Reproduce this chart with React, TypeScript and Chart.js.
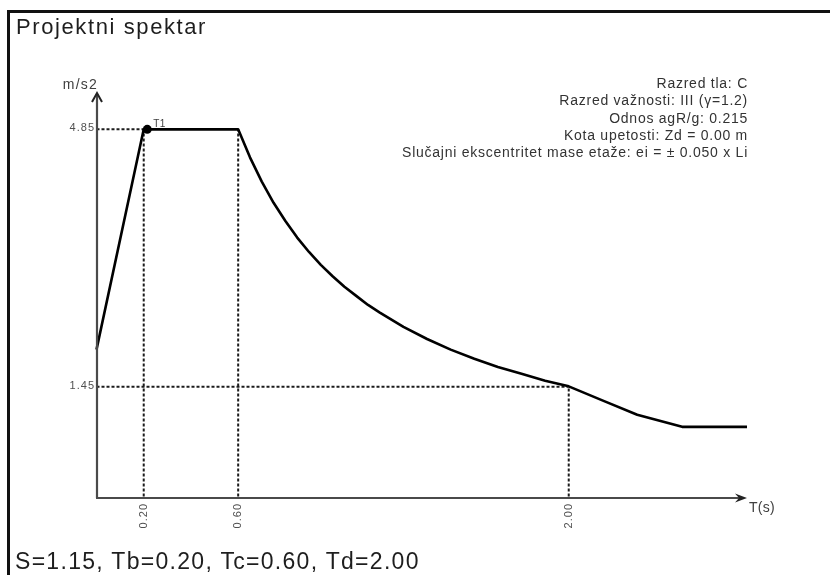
import React, { useEffect, useRef } from "react";
import { Chart, registerables } from "chart.js";

Chart.register(...registerables);

// Spectrum: period T (s) and spectral acceleration Se (m/s2)
const specT = [
  0, 0.2, 0.6, 0.65, 0.7, 0.75, 0.8, 0.85, 0.9, 0.95, 1.0, 1.05, 1.1, 1.15, 1.2, 1.3, 1.4, 1.5,
  1.6, 1.7, 1.8, 1.9, 2.0, 2.15, 2.29, 2.48, 2.755,
];
const specSe = [
  1.94, 4.85, 4.85, 4.48, 4.16, 3.88, 3.64, 3.42, 3.23, 3.06, 2.91, 2.77, 2.65, 2.53, 2.43, 2.24,
  2.08, 1.94, 1.82, 1.71, 1.62, 1.53, 1.455, 1.26, 1.08, 0.92, 0.92,
];

// Characteristic periods and their spectrum values (dotted guides)
const guideT = [0.2, 0.6, 2.0];
const guideSe = [4.85, 4.85, 1.45];
const xTickLabels = ["0.20", "0.60", "2.00"];

const yTickValues = [4.85, 1.45];
const yTickLabels = ["4.85", "1.45"];
const yGuideEndT = [0.2, 2.0];

// Marked point T1
const t1T = [0.215];
const t1Se = [4.85];
const t1Label = "T1";

const titleText = "Projektni spektar";
const footerText = "S=1.15, Tb=0.20, Tc=0.60, Td=2.00";
const yAxisLabel = "m/s2";
const xAxisLabel = "T(s)";
const infoLines = [
  "Razred tla: C",
  "Razred važnosti: III (γ=1.2)",
  "Odnos agR/g: 0.215",
  "Kota upetosti: Zd = 0.00 m",
  "Slučajni ekscentritet mase etaže: ei = ± 0.050 x Li",
];

const FONT = '"Liberation Sans", Arial, "DejaVu Sans", sans-serif';

const decorPlugin = {
  id: "decor",
  afterDatasetsDraw(chart: any) {
    const { ctx, chartArea, scales } = chart;
    const xs = scales.x;
    const ys = scales.y;
    const x0 = xs.getPixelForValue(0) + 0.5;
    const yb = chartArea.bottom;
    const top = chartArea.top;
    const right = chartArea.right;
    ctx.save();
    // axes
    ctx.strokeStyle = "#4a4a4a";
    ctx.lineWidth = 2.2;
    ctx.setLineDash([]);
    ctx.beginPath();
    ctx.moveTo(x0, yb);
    ctx.lineTo(x0, top + 1);
    ctx.moveTo(x0 - 1, yb);
    ctx.lineTo(right - 3, yb);
    ctx.stroke();
    // y arrow (chevron)
    ctx.strokeStyle = "#222";
    ctx.lineWidth = 2;
    ctx.beginPath();
    ctx.moveTo(x0 - 5, top + 9);
    ctx.lineTo(x0, top);
    ctx.lineTo(x0 + 5, top + 9);
    ctx.stroke();
    // x arrow (filled)
    ctx.fillStyle = "#222";
    ctx.beginPath();
    ctx.moveTo(right, yb);
    ctx.lineTo(right - 12, yb - 4.5);
    ctx.lineTo(right - 8, yb);
    ctx.lineTo(right - 12, yb + 4.5);
    ctx.closePath();
    ctx.fill();

    // y tick labels
    ctx.fillStyle = "#505050";
    ctx.font = `11px ${FONT}`;
    (ctx as any).letterSpacing = "1px";
    ctx.textAlign = "right";
    ctx.textBaseline = "middle";
    yTickValues.forEach((v, i) => {
      ctx.fillText(yTickLabels[i], x0 - 2, ys.getPixelForValue(v) - 1);
    });
    // x tick labels (rotated)
    guideT.forEach((t, i) => {
      ctx.save();
      ctx.translate(xs.getPixelForValue(t), yb + 5);
      ctx.rotate(-Math.PI / 2);
      ctx.textAlign = "right";
      ctx.textBaseline = "middle";
      ctx.fillText(xTickLabels[i], 0, 0);
      ctx.restore();
    });
    // axis names
    ctx.fillStyle = "#404040";
    ctx.font = `14px ${FONT}`;
    (ctx as any).letterSpacing = "1.2px";
    ctx.textAlign = "right";
    ctx.textBaseline = "middle";
    ctx.fillText(yAxisLabel, x0 + 1, top - 8);
    (ctx as any).letterSpacing = "0.3px";
    ctx.textAlign = "left";
    ctx.fillText(xAxisLabel, right + 2, yb + 10);
    // T1 label
    ctx.font = `10px ${FONT}`;
    (ctx as any).letterSpacing = "0.5px";
    ctx.fillStyle = "#404040";
    ctx.fillText(t1Label, xs.getPixelForValue(t1T[0]) + 6, ys.getPixelForValue(t1Se[0]) - 5);
    // info block
    ctx.font = `14px ${FONT}`;
    (ctx as any).letterSpacing = "0.75px";
    ctx.fillStyle = "#333";
    ctx.textAlign = "right";
    infoLines.forEach((line, i) => {
      ctx.fillText(line, right + 1, 84 + i * 17.4);
    });
    ctx.restore();
  },
};

export default function App() {
  const canvasRef = useRef<HTMLCanvasElement | null>(null);

  useEffect(() => {
    if (!canvasRef.current) return;
    const spectrum = specT.map((t, i) => ({ x: t, y: specSe[i] }));
    const guidePts: any[] = [];
    guideT.forEach((t, i) => {
      guidePts.push({ x: t, y: 0 }, { x: t, y: guideSe[i] }, { x: t, y: null });
    });
    yTickValues.forEach((v, i) => {
      guidePts.push({ x: 0, y: v }, { x: yGuideEndT[i], y: v }, { x: yGuideEndT[i], y: null });
    });

    const chart = new Chart(canvasRef.current, {
      type: "line",
      data: {
        datasets: [
          {
            data: spectrum,
            borderColor: "#000",
            borderWidth: 2.6,
            pointRadius: 0,
            tension: 0,
            clip: false as any,
            borderJoinStyle: "round",
          } as any,
          {
            data: t1T.map((t, i) => ({ x: t, y: t1Se[i] })),
            showLine: false,
            pointRadius: 4.5,
            pointBackgroundColor: "#000",
            pointBorderColor: "#000",
            borderWidth: 0,
            clip: false as any,
          } as any,
          {
            data: guidePts,
            borderColor: "#1c1c1c",
            borderWidth: 2,
            borderDash: [3, 2],
            pointRadius: 0,
            spanGaps: false,
            tension: 0,
            clip: false as any,
          } as any,
        ],
      },
      options: {
        animation: false,
        responsive: false,
        devicePixelRatio: 1,
        parsing: true,
        layout: { padding: { left: 96.5, right: 83, top: 93, bottom: 77 } },
        plugins: {
          legend: { display: false },
          tooltip: { enabled: false },
          title: { display: false },
        },
        scales: {
          x: { type: "linear", min: 0, max: 2.755, display: false },
          y: { type: "linear", min: -0.02, max: 5.33, display: false },
        },
        events: [],
      } as any,
      plugins: [decorPlugin],
    });
    return () => chart.destroy();
  }, []);

  return (
    <div
      style={{
        position: "absolute",
        left: 0,
        top: 0,
        width: 830,
        height: 575,
        background: "#fff",
        overflow: "hidden",
        fontFamily: FONT,
      }}
    >
      <canvas ref={canvasRef} width={830} height={575} style={{ position: "absolute", left: 0, top: 0, width: 830, height: 575 }} />
      <div
        style={{
          position: "absolute",
          left: 7,
          top: 10,
          right: 0,
          bottom: 0,
          borderTop: "3px solid #111",
          borderLeft: "3px solid #111",
          pointerEvents: "none",
        }}
      />
      <div
        style={{
          position: "absolute",
          left: 16,
          top: 16,
          fontSize: 22,
          lineHeight: 1,
          letterSpacing: "1.6px",
          color: "#1e1e1e",
          whiteSpace: "nowrap",
        }}
      >
        {titleText}
      </div>
      <div
        style={{
          position: "absolute",
          left: 15,
          top: 550,
          fontSize: 23,
          lineHeight: 1,
          letterSpacing: "1.3px",
          color: "#1e1e1e",
          whiteSpace: "nowrap",
        }}
      >
        {footerText}
      </div>
    </div>
  );
}
